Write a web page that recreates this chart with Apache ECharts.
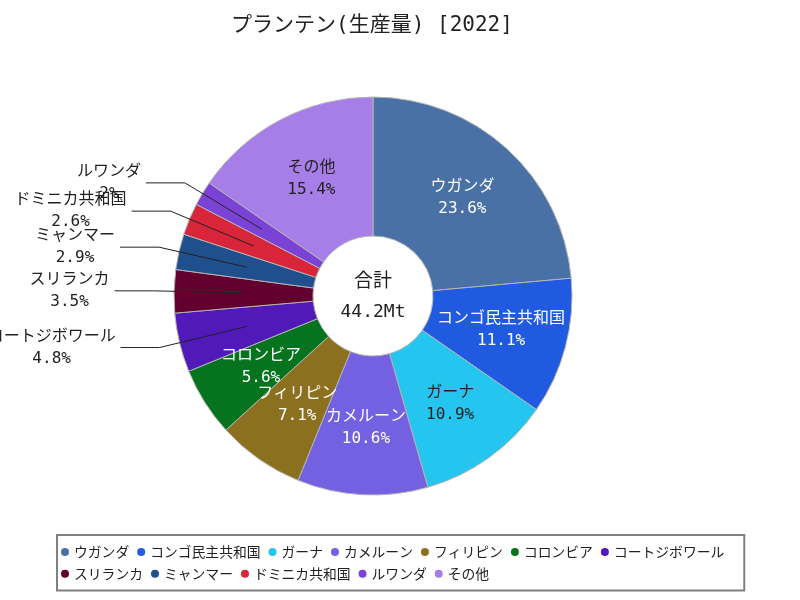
<!DOCTYPE html>
<html>
<head>
<meta charset="utf-8">
<script src="https://cdn.jsdelivr.net/npm/echarts@6/dist/echarts.min.js"></script>
<style>html,body{margin:0;padding:0;background:#fff}#c{width:800px;height:600px}</style>
</head>
<body>
<div id="c"></div>
<script>
const titleText = 'プランテン(生産量) [2022]';
const totalName = '合計';
const totalValue = '44.2Mt';
const categories = ['ウガンダ','コンゴ民主共和国','ガーナ','カメルーン','フィリピン','コロンビア','コートジボワール','スリランカ','ミャンマー','ドミニカ共和国','ルワンダ','その他'];
const shares = [23.6, 11.1, 10.9, 10.6, 7.1, 5.6, 4.8, 3.5, 2.9, 2.6, 2, 15.4];

const colors = ['#4a71a5','#1f5ae0','#24c6f0','#7461e2','#8b7020','#06731f','#5019b8','#62002e','#1f4f8d','#d82539','#7b42d6','#a77ee8'];
const insideTextColors = ['#fff','#fff','#222','#fff','#fff','#fff','#fff','#fff','#fff','#fff','#fff','#222'];
const INSIDE_MIN = 5;

const MONO = "'DejaVu Sans Mono','Noto Sans CJK JP',sans-serif";
const CJK = "'Noto Sans CJK JP',sans-serif";

const richLabel = {
  n: {align: 'center', fontSize: 16, lineHeight: 22, fontFamily: MONO},
  v: {align: 'center', fontSize: 16, lineHeight: 22, fontFamily: MONO}
};
const fmt = p => '{n|' + p.name + '}\n{v|' + p.value + '%}';

const chart = echarts.init(document.getElementById('c'), null, {renderer: 'canvas'});
chart.setOption({
  animation: false,
  backgroundColor: '#fff',
  title: [
    {
      text: titleText, left: 367, top: 10, textAlign: 'center',
      textStyle: {fontSize: 21, fontWeight: 'normal', color: '#222', fontFamily: MONO}
    },
    {
      text: '{a|' + totalName + '}\n{b|' + totalValue + '}', left: 368, top: 259, textAlign: 'center',
      textStyle: {
        fontWeight: 'normal',
        rich: {
          a: {fontSize: 19, lineHeight: 32, color: '#222', fontFamily: CJK, fontWeight: 'normal', align: 'center'},
          b: {fontSize: 18, lineHeight: 32, color: '#222', fontFamily: MONO, fontWeight: 'normal', align: 'center'}
        }
      }
    }
  ],
  legend: {
    data: categories,
    left: 57, top: 535, width: 680,
    padding: [10, 20, 10, 4],
    borderColor: '#808080', borderWidth: 2,
    icon: 'circle', itemWidth: 8, itemHeight: 8, itemGap: 8,
    itemStyle: {borderWidth: 0},
    textStyle: {fontSize: 13.8, color: '#222', fontFamily: CJK}
  },
  series: [
    {
      type: 'pie', center: [373, 296], radius: [60, 199], startAngle: 90, clockwise: true,
      avoidLabelOverlap: false,
      labelLayout: {hideOverlap: false},
      itemStyle: {borderColor: '#b4b4b4', borderWidth: 1},
      label: {position: 'inside', formatter: fmt, rich: richLabel, fontSize: 16, fontFamily: MONO},
      labelLine: {show: false},
      emphasis: {disabled: true},
      data: categories.map((n, i) => ({
        name: n, value: shares[i],
        itemStyle: {color: colors[i]},
        label: {show: shares[i] >= INSIDE_MIN, color: insideTextColors[i]}
      }))
    },
    {
      type: 'pie', center: [373, 296], radius: [60, 129.5], startAngle: 90, clockwise: true,
      z: 3, silent: true, avoidLabelOverlap: false,
      labelLayout: {hideOverlap: false},
      itemStyle: {color: 'rgba(0,0,0,0)', borderWidth: 0},
      label: {position: 'outside', formatter: fmt, rich: richLabel, color: '#222', fontSize: 16, fontFamily: MONO},
      labelLine: {show: true, length: 90, length2: 39, smooth: false, lineStyle: {color: '#222', width: 1}},
      emphasis: {disabled: true},
      data: categories.map((n, i) => ({
        name: n, value: shares[i],
        label: {show: shares[i] < INSIDE_MIN},
        labelLine: {show: shares[i] < INSIDE_MIN}
      }))
    }
  ]
});
</script>
</body>
</html>
